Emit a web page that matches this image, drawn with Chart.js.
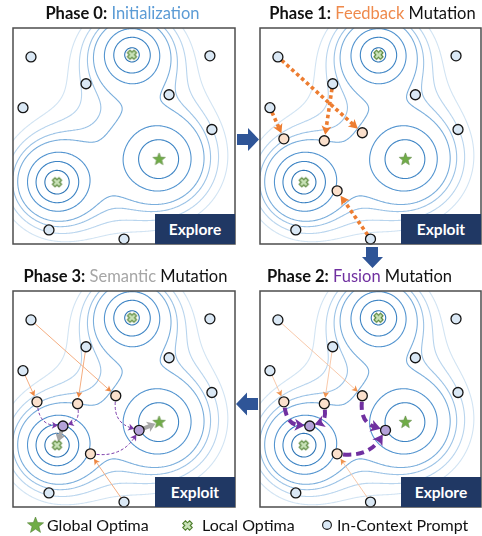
<!DOCTYPE html>
<html>
<head>
<meta charset="utf-8">
<script src="https://cdn.jsdelivr.net/npm/chart.js@4.4.1/dist/chart.umd.min.js"></script>
<style>
body { margin: 0; background: #fff; }
#wrap { position: relative; width: 482px; height: 536px; overflow: hidden; font-family: Lato, "Open Sans", sans-serif; color: #111; }
.panel { position: absolute; }
.title { position: absolute; width: 300px; text-align: center; font-size: 16.5px; line-height: 18px; white-space: nowrap; }
.title b { font-weight: 700; }
.tag { position: absolute; width: 80px; height: 30px; background: #203864; color: #fff; font-weight: 700; font-size: 15.5px; line-height: 30px; text-align: center; }
.leg { position: absolute; font-size: 16px; line-height: 18px; white-space: nowrap; }
.icon { position: absolute; }
</style>
</head>
<body>
<div id="wrap">
  <svg width="482" height="536" style="position:absolute;left:0;top:0;">
    <polygon points="237,134 248,134 248,128 259,139.5 248,151 248,145 237,145" fill="#2f5597"/>
    <polygon points="366,247 378,247 378,257 383,257 372.5,268 362,257 366,257" fill="#2f5597"/>
    <polygon points="258,398 247,398 247,392.5 236,404 247,415.5 247,410 258,410" fill="#2f5597"/>
  </svg>
</div>
<script>
// ---- data (x, y in 0..100 inside each panel) ----
var promptX = [8.1, 32.9, 4.5, 70.3, 88.7, 89.6, 16.2, 50.0];
var promptY = [86.6, 74.2, 63.1, 69.1, 87.1, 53.0, 6.5, 2.3];
var globalX = [65.8];
var globalY = [39.2];
var localX = [53.6, 19.8];
var localY = [87.6, 28.6];
var feedbackX = [10.8, 29.1, 46.3, 34.9];
var feedbackY = [48.7, 47.8, 51.5, 24.6];
var feedbackFrom = [2, 1, 0, 7];
var fusionX = [22.5, 56.8];
var fusionY = [37.5, 35.5];
var fusionFrom = [[0, 1], [2, 3]];
var semanticTo = [['local', 1], ['global', 0]];

// landscape: one bump per optimum (top local, bottom-left local, global)
var peakX = [localX[0], localX[1], globalX[0]];
var peakY = [localY[0], localY[1], globalY[0]];
var peakHeight = [1.0, 1.9, 0.672];
var peakSpread = [6, 4.5, 9.25];
var contourLevels = [0.8, 0.378, 0.218, 0.135, 0.11, 0.088, 0.07];

var phaseName = ['Phase 0:', 'Phase 1:', 'Phase 2:', 'Phase 3:'];
var phaseWord = ['Initialization', 'Feedback', 'Fusion', 'Semantic'];
var phaseTail = ['', ' Mutation', ' Mutation', ' Mutation'];
var phaseMode = ['Explore', 'Exploit', 'Explore', 'Exploit'];
var legendText = ['Global Optima', 'Local Optima', 'In-Context Prompt'];

// ---- layout / style ----
var boxes = [
  {x: 13, y: 28, w: 222, h: 216},
  {x: 260, y: 28, w: 221, h: 216},
  {x: 260, y: 291, w: 221, h: 216},
  {x: 13, y: 291, w: 222, h: 216}
];
var titleCx = [122.5, 372.5, 359.5, 125.5];
var titleCy = [13, 13, 276, 276];
var wordColor = ['#5b9bd5', '#ef8a4c', '#7030a0', '#a6a6a6'];
var contourColors = ['#2e75b6', '#3d84c4', '#5495d0', '#7aaedc', '#9cc3e6', '#b9d5ee', '#d2e4f3'];
var PAD = 8;

// contour field
function field(x, y) {
  var v = 0;
  for (var k = 0; k < peakX.length; k++) {
    var dx = x - peakX[k], dy = y - peakY[k];
    v += peakHeight[k] / (1 + (dx * dx + dy * dy) / (peakSpread[k] * peakSpread[k]));
  }
  return v;
}
var N = 200;
var grid = [];
for (var j = 0; j <= N; j++) {
  var row = [];
  for (var i = 0; i <= N; i++) row.push(field(i * 100 / N, j * 100 / N));
  grid.push(row);
}
function contourSegs(L) {
  var segs = [];
  for (var j = 0; j < N; j++) {
    for (var i = 0; i < N; i++) {
      var x0 = i * 100 / N, x1 = (i + 1) * 100 / N, y0 = j * 100 / N, y1 = (j + 1) * 100 / N;
      var c = [[x0, y0, grid[j][i]], [x1, y0, grid[j][i + 1]], [x1, y1, grid[j + 1][i + 1]], [x0, y1, grid[j + 1][i]]];
      var pts = [];
      for (var k = 0; k < 4; k++) {
        var p = c[k], q = c[(k + 1) % 4];
        if ((p[2] >= L) !== (q[2] >= L)) {
          var t = (L - p[2]) / (q[2] - p[2]);
          pts.push([p[0] + t * (q[0] - p[0]), p[1] + t * (q[1] - p[1])]);
        }
      }
      if (pts.length === 2) segs.push(pts[0], pts[1]);
      else if (pts.length === 4) segs.push(pts[0], pts[1], pts[2], pts[3]);
    }
  }
  return segs;
}
var contours = contourLevels.map(contourSegs);

// marker images
function makeStar(R) {
  var c = document.createElement('canvas');
  c.width = c.height = Math.ceil(2 * R + 2);
  var g = c.getContext('2d'), m = c.width / 2;
  g.beginPath();
  for (var k = 0; k < 10; k++) {
    var r = k % 2 ? R * 0.42 : R, a = -Math.PI / 2 + k * Math.PI / 5;
    g.lineTo(m + r * Math.cos(a), m + r * Math.sin(a));
  }
  g.closePath();
  g.fillStyle = '#70ad47'; g.fill();
  g.strokeStyle = '#548235'; g.lineWidth = 0.6; g.stroke();
  return c;
}
function makeCross(R) {
  var c = document.createElement('canvas');
  c.width = c.height = Math.ceil(2 * R + 3);
  var g = c.getContext('2d'), m = c.width / 2, w = R * 0.4;
  var pl = [[-w,-R],[w,-R],[w,-w],[R,-w],[R,w],[w,w],[w,R],[-w,R],[-w,w],[-R,w],[-R,-w],[-w,-w]];
  g.beginPath();
  pl.forEach(function(p) {
    var a = Math.PI / 4;
    g.lineTo(m + p[0] * Math.cos(a) - p[1] * Math.sin(a), m + p[0] * Math.sin(a) + p[1] * Math.cos(a));
  });
  g.closePath();
  g.fillStyle = '#c9e2b8'; g.fill();
  g.strokeStyle = '#4f7f2e'; g.lineWidth = 1.1; g.stroke();
  return c;
}
var starImg = makeStar(6.5);
var crossImg = makeCross(4.6);

function pts(xs, ys) { return xs.map(function(x, i) { return {x: x, y: ys[i]}; }); }

function drawArrow(ctx, a, b, st) {
  var dx = b.x - a.x, dy = b.y - a.y;
  var bend = st.bend || 0;
  var cx = (a.x + b.x) / 2 - dy * bend, cy = (a.y + b.y) / 2 + dx * bend;
  var u1x = cx - a.x, u1y = cy - a.y, l1 = Math.hypot(u1x, u1y);
  var u2x = b.x - cx, u2y = b.y - cy, l2 = Math.hypot(u2x, u2y);
  u1x /= l1; u1y /= l1; u2x /= l2; u2y /= l2;
  var sx = a.x + u1x * st.gap0, sy = a.y + u1y * st.gap0;
  var tx = b.x - u2x * st.gap1, ty = b.y - u2y * st.gap1;
  var ex = tx - u2x * st.head * 0.6, ey = ty - u2y * st.head * 0.6;
  ctx.save();
  ctx.strokeStyle = st.color; ctx.fillStyle = st.headColor || st.color;
  ctx.lineWidth = st.width; ctx.setLineDash(st.dash || []);
  ctx.beginPath();
  ctx.moveTo(sx, sy);
  if (bend) ctx.quadraticCurveTo(cx, cy, ex, ey); else ctx.lineTo(ex, ey);
  ctx.stroke();
  ctx.setLineDash([]);
  ctx.beginPath();
  ctx.moveTo(tx, ty);
  ctx.lineTo(tx - u2x * st.head - u2y * st.headW, ty - u2y * st.head + u2x * st.headW);
  ctx.lineTo(tx - u2x * st.head * 0.75, ty - u2y * st.head * 0.75);
  ctx.lineTo(tx - u2x * st.head + u2y * st.headW, ty - u2y * st.head - u2x * st.headW);
  ctx.closePath();
  ctx.fill();
  ctx.restore();
}

var feedbackStyle = [
  null,
  {color: '#ed7d31', width: 3.6, dash: [3.6, 3], head: 9, headW: 5, gap0: 5, gap1: 6},
  {color: '#f7c3a1', headColor: '#f0934f', width: 0.9, head: 6, headW: 3.2, gap0: 5, gap1: 6},
  {color: '#f4ad80', headColor: '#ee8641', width: 1, head: 6, headW: 3.2, gap0: 5, gap1: 6}
];
var fusionStyle = [
  null, null,
  {color: '#7030a0', width: 4, dash: [8, 5], head: 10, headW: 6, gap0: 6, gap1: 5},
  {color: '#7a3aa8', width: 1, dash: [3, 2], head: 6, headW: 3.5, gap0: 6, gap1: 5}
];
var fusionBend = [[0.4, -0.4], [0.4, 0.3]];
var semanticStyle = {color: '#a6a6a6', width: 4, head: 8, headW: 5.5, gap0: 5, gap1: 4};

function landscape(phase) {
  return {
    id: 'landscape' + phase,
    beforeDatasetsDraw: function(chart) {
      var ctx = chart.ctx, ca = chart.chartArea, xs = chart.scales.x, ys = chart.scales.y;
      ctx.save();
      ctx.beginPath(); ctx.rect(ca.left, ca.top, ca.right - ca.left, ca.bottom - ca.top); ctx.clip();
      ctx.lineWidth = 1.1; ctx.lineCap = 'round'; ctx.lineJoin = 'round';
      for (var l = contours.length - 1; l >= 0; l--) {
        var s = contours[l];
        ctx.strokeStyle = contourColors[l];
        ctx.beginPath();
        for (var k = 0; k < s.length; k += 2) {
          ctx.moveTo(xs.getPixelForValue(s[k][0]), ys.getPixelForValue(s[k][1]));
          ctx.lineTo(xs.getPixelForValue(s[k + 1][0]), ys.getPixelForValue(s[k + 1][1]));
        }
        ctx.stroke();
      }
      ctx.restore();
      function P(x, y) { return {x: xs.getPixelForValue(x), y: ys.getPixelForValue(y)}; }
      if (phase >= 1) {
        feedbackX.forEach(function(x, i) {
          var f = feedbackFrom[i];
          drawArrow(ctx, P(promptX[f], promptY[f]), P(x, feedbackY[i]), feedbackStyle[phase]);
        });
      }
      if (phase >= 2) {
        fusionX.forEach(function(x, i) {
          fusionFrom[i].forEach(function(f, n) {
            var st = Object.assign({bend: fusionBend[i][n]}, fusionStyle[phase]);
            drawArrow(ctx, P(feedbackX[f], feedbackY[f]), P(x, fusionY[i]), st);
          });
        });
      }
      if (phase === 3) {
        fusionX.forEach(function(x, i) {
          var t = semanticTo[i];
          var to = t[0] === 'local' ? P(localX[t[1]], localY[t[1]]) : P(globalX[t[1]], globalY[t[1]]);
          drawArrow(ctx, P(x, fusionY[i]), to, semanticStyle);
        });
      }
    },
    afterDraw: function(chart) {
      var ctx = chart.ctx, ca = chart.chartArea;
      ctx.save();
      ctx.strokeStyle = '#4d4d4d'; ctx.lineWidth = 1.5;
      ctx.strokeRect(ca.left, ca.top, ca.right - ca.left, ca.bottom - ca.top);
      ctx.restore();
    }
  };
}

var wrap = document.getElementById('wrap');
boxes.forEach(function(b, phase) {
  var cv = document.createElement('canvas');
  cv.className = 'panel';
  cv.width = b.w + 2 * PAD; cv.height = b.h + 2 * PAD;
  cv.style.left = (b.x - PAD) + 'px'; cv.style.top = (b.y - PAD) + 'px';
  wrap.appendChild(cv);

  var ds = [
    {data: pts(globalX, globalY), pointStyle: starImg, clip: false},
    {data: pts(localX, localY), pointStyle: crossImg, clip: false},
    {data: pts(promptX, promptY), pointRadius: 5, pointBackgroundColor: '#dae8f5', pointBorderColor: '#151515', pointBorderWidth: 1.3, clip: false}
  ];
  if (phase >= 1) ds.push({data: pts(feedbackX, feedbackY), pointRadius: 5, pointBackgroundColor: '#fbe0cc', pointBorderColor: '#151515', pointBorderWidth: 1.3, clip: false});
  if (phase >= 2) ds.push({data: pts(fusionX, fusionY), pointRadius: 5, pointBackgroundColor: '#b4a2d8', pointBorderColor: '#151515', pointBorderWidth: 1.3, clip: false});

  new Chart(cv, {
    type: 'scatter',
    data: {datasets: ds},
    options: {
      responsive: false,
      animation: false,
      events: [],
      layout: {padding: PAD},
      scales: {
        x: {type: 'linear', min: 0, max: 100, display: false},
        y: {type: 'linear', min: 0, max: 100, display: false}
      },
      plugins: {legend: {display: false}, tooltip: {enabled: false}}
    },
    plugins: [landscape(phase)]
  });

  var t = document.createElement('div');
  t.className = 'title';
  t.style.left = (titleCx[phase] - 150) + 'px';
  t.style.top = (titleCy[phase] - 9) + 'px';
  t.innerHTML = '<b>' + phaseName[phase] + '</b> <span style="color:' + wordColor[phase] + '">' + phaseWord[phase] + '</span>' + phaseTail[phase];
  wrap.appendChild(t);

  var g = document.createElement('div');
  g.className = 'tag';
  g.style.left = (b.x + b.w - 80) + 'px';
  g.style.top = (b.y + b.h - 30) + 'px';
  g.textContent = phaseMode[phase];
  wrap.appendChild(g);
});

// legend
var legStar = makeStar(8.5), legCross = makeCross(4.8);
var legCircle = document.createElement('canvas');
legCircle.width = legCircle.height = 12;
(function() {
  var g = legCircle.getContext('2d');
  g.beginPath(); g.arc(6, 6, 4.4, 0, Math.PI * 2);
  g.fillStyle = '#dae8f5'; g.fill(); g.strokeStyle = '#151515'; g.lineWidth = 1.1; g.stroke();
})();
var legIcons = [legStar, legCross, legCircle];
var legIconCx = [35, 187.5, 327];
var legTextX = [47, 202, 337];
legIcons.forEach(function(ic, k) {
  ic.className = 'icon';
  ic.style.left = (legIconCx[k] - ic.width / 2) + 'px';
  ic.style.top = (525 - ic.height / 2) + 'px';
  wrap.appendChild(ic);
  var d = document.createElement('div');
  d.className = 'leg';
  d.style.left = legTextX[k] + 'px';
  d.style.top = '516px';
  d.textContent = legendText[k];
  wrap.appendChild(d);
});
</script>
</body>
</html>
